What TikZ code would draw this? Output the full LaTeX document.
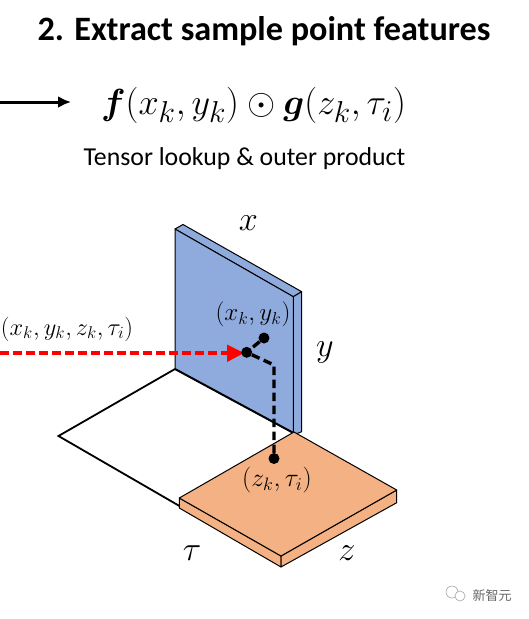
\documentclass[tikz,border=0pt]{standalone}
\usepackage{fontspec}
\usepackage{graphicx}
\usepackage{amsmath,amssymb,bm}
\usetikzlibrary{arrows.meta}
\setmainfont{Carlito}
\newfontfamily\cjk{Noto Sans CJK SC}
\definecolor{panelblue}{HTML}{8FAADC}
\definecolor{panelorange}{HTML}{F4B183}
\newcommand{\fs}[1]{\fontsize{#1}{#1}\selectfont}
\tikzset{
  solidface/.style={draw=black,line width=1pt,line join=round},
  dot/.style={circle,fill=black,inner sep=0pt,minimum size=11pt},
  lab/.style={inner sep=0pt,text=black},
  axis/.style={lab,font=\fs{20}},
  dashline/.style={line width=3.4pt,dash pattern=on 8.5pt off 4.5pt},
  mark label/.style={lab,font=\fs{20}}
}
\begin{document}
\begin{tikzpicture}[x=1pt,y=-1pt]
\useasboundingbox (0,0) rectangle (528,619);
% floor outline
\coordinate (fa) at (175,369);
\coordinate (fb) at (58.5,436);
\coordinate (fc) at (179.5,506);
\coordinate (fd) at (293.5,433);
\draw[line width=1.8pt,line join=miter] (fa) -- (fb) -- (fc);
% blue panel
\fill[panelblue,solidface] (175,229) -- (183,224.5) -- (301.7,291.7) -- (293.3,296.7) -- cycle;
\fill[panelblue,solidface] (293.3,296.7) -- (301.7,291.7) -- (301.7,431.7) -- (293.3,435) -- cycle;
\fill[panelblue,solidface] (175,229) -- (293.3,296.7) -- (293.3,433) -- (175,369) -- cycle;
\draw[line width=2pt] (fa) -- (fd);
% orange plate
\fill[panelorange,solidface] (179.3,498) -- (281,556) -- (281,567) -- (179.3,508) -- cycle;
\fill[panelorange,solidface] (281,556) -- (396.7,490) -- (396.7,502.7) -- (281,567) -- cycle;
\fill[panelorange,solidface] (294,432) -- (396.7,490) -- (281,556) -- (179.3,498) -- cycle;
% red ray
\coordinate (rs) at (0,353);
\coordinate (rt) at (228,353);
\coordinate (rtip) at (244,353);
\draw[red,dashline] (rs) -- (rt);
\fill[red] (rtip) -- (227,344.5) -- (227,362) -- cycle;
% sample points and dashed links
\node[dot] (pa) at (264,338) {};
\node[dot] (pb) at (246.7,352.3) {};
\node[dot] (pc) at (274,458.5) {};
\coordinate (bend) at (274,365);
\draw[dashline] (pa) -- (pb);
\draw[dashline] (pb) -- (bend) -- (pc);
% labels
\node[lab,font=\bfseries\fs{34.2}] (title) at (264,31) {2. Extract sample point features};
\coordinate (as) at (0,102);
\coordinate (ae) at (71,102);
\draw[line width=3pt,-{Latex[length=13pt,width=12pt]}] (as) -- (ae);
\node[lab,font=\fs{30}] (eq) at (253.5,105) {\scalebox{1.457}{$\bm{f}(x_k,y_k)\odot\bm{g}(z_k,\tau_i)$}};
\node[lab,font=\fs{25.8}] (sub) at (244.5,158.5) {Tensor lookup \& outer product};
\node[axis] (lx) at (248.5,223) {\scalebox{1.65}{$x$}};
\node[axis] (ly) at (325,352) {\scalebox{1.65}{$y$}};
\node[axis] (lt) at (192,553) {\scalebox{1.65}{$\tau$}};
\node[axis] (lz) at (347,553) {\scalebox{1.65}{$z$}};
\node[mark label] (lxy) at (253,314) {\scalebox{1.21}{$(x_k,y_k)$}};
\node[mark label] (lzt) at (277,480) {\scalebox{1.25}{$(z_k,\tau_i)$}};
\node[mark label] (lall) at (67,329) {\scalebox{1.18}{$(x_k,y_k,z_k,\tau_i)$}};
% watermark
\draw[black!35,line width=.6pt] (452,592) circle (6);
\draw[black!35,line width=.6pt,fill=white] (460,596) circle (5);
\node[lab,text=black!60,font=\cjk\fs{13}] (wm) at (492,595.5) {新智元};
\end{tikzpicture}
\end{document}
